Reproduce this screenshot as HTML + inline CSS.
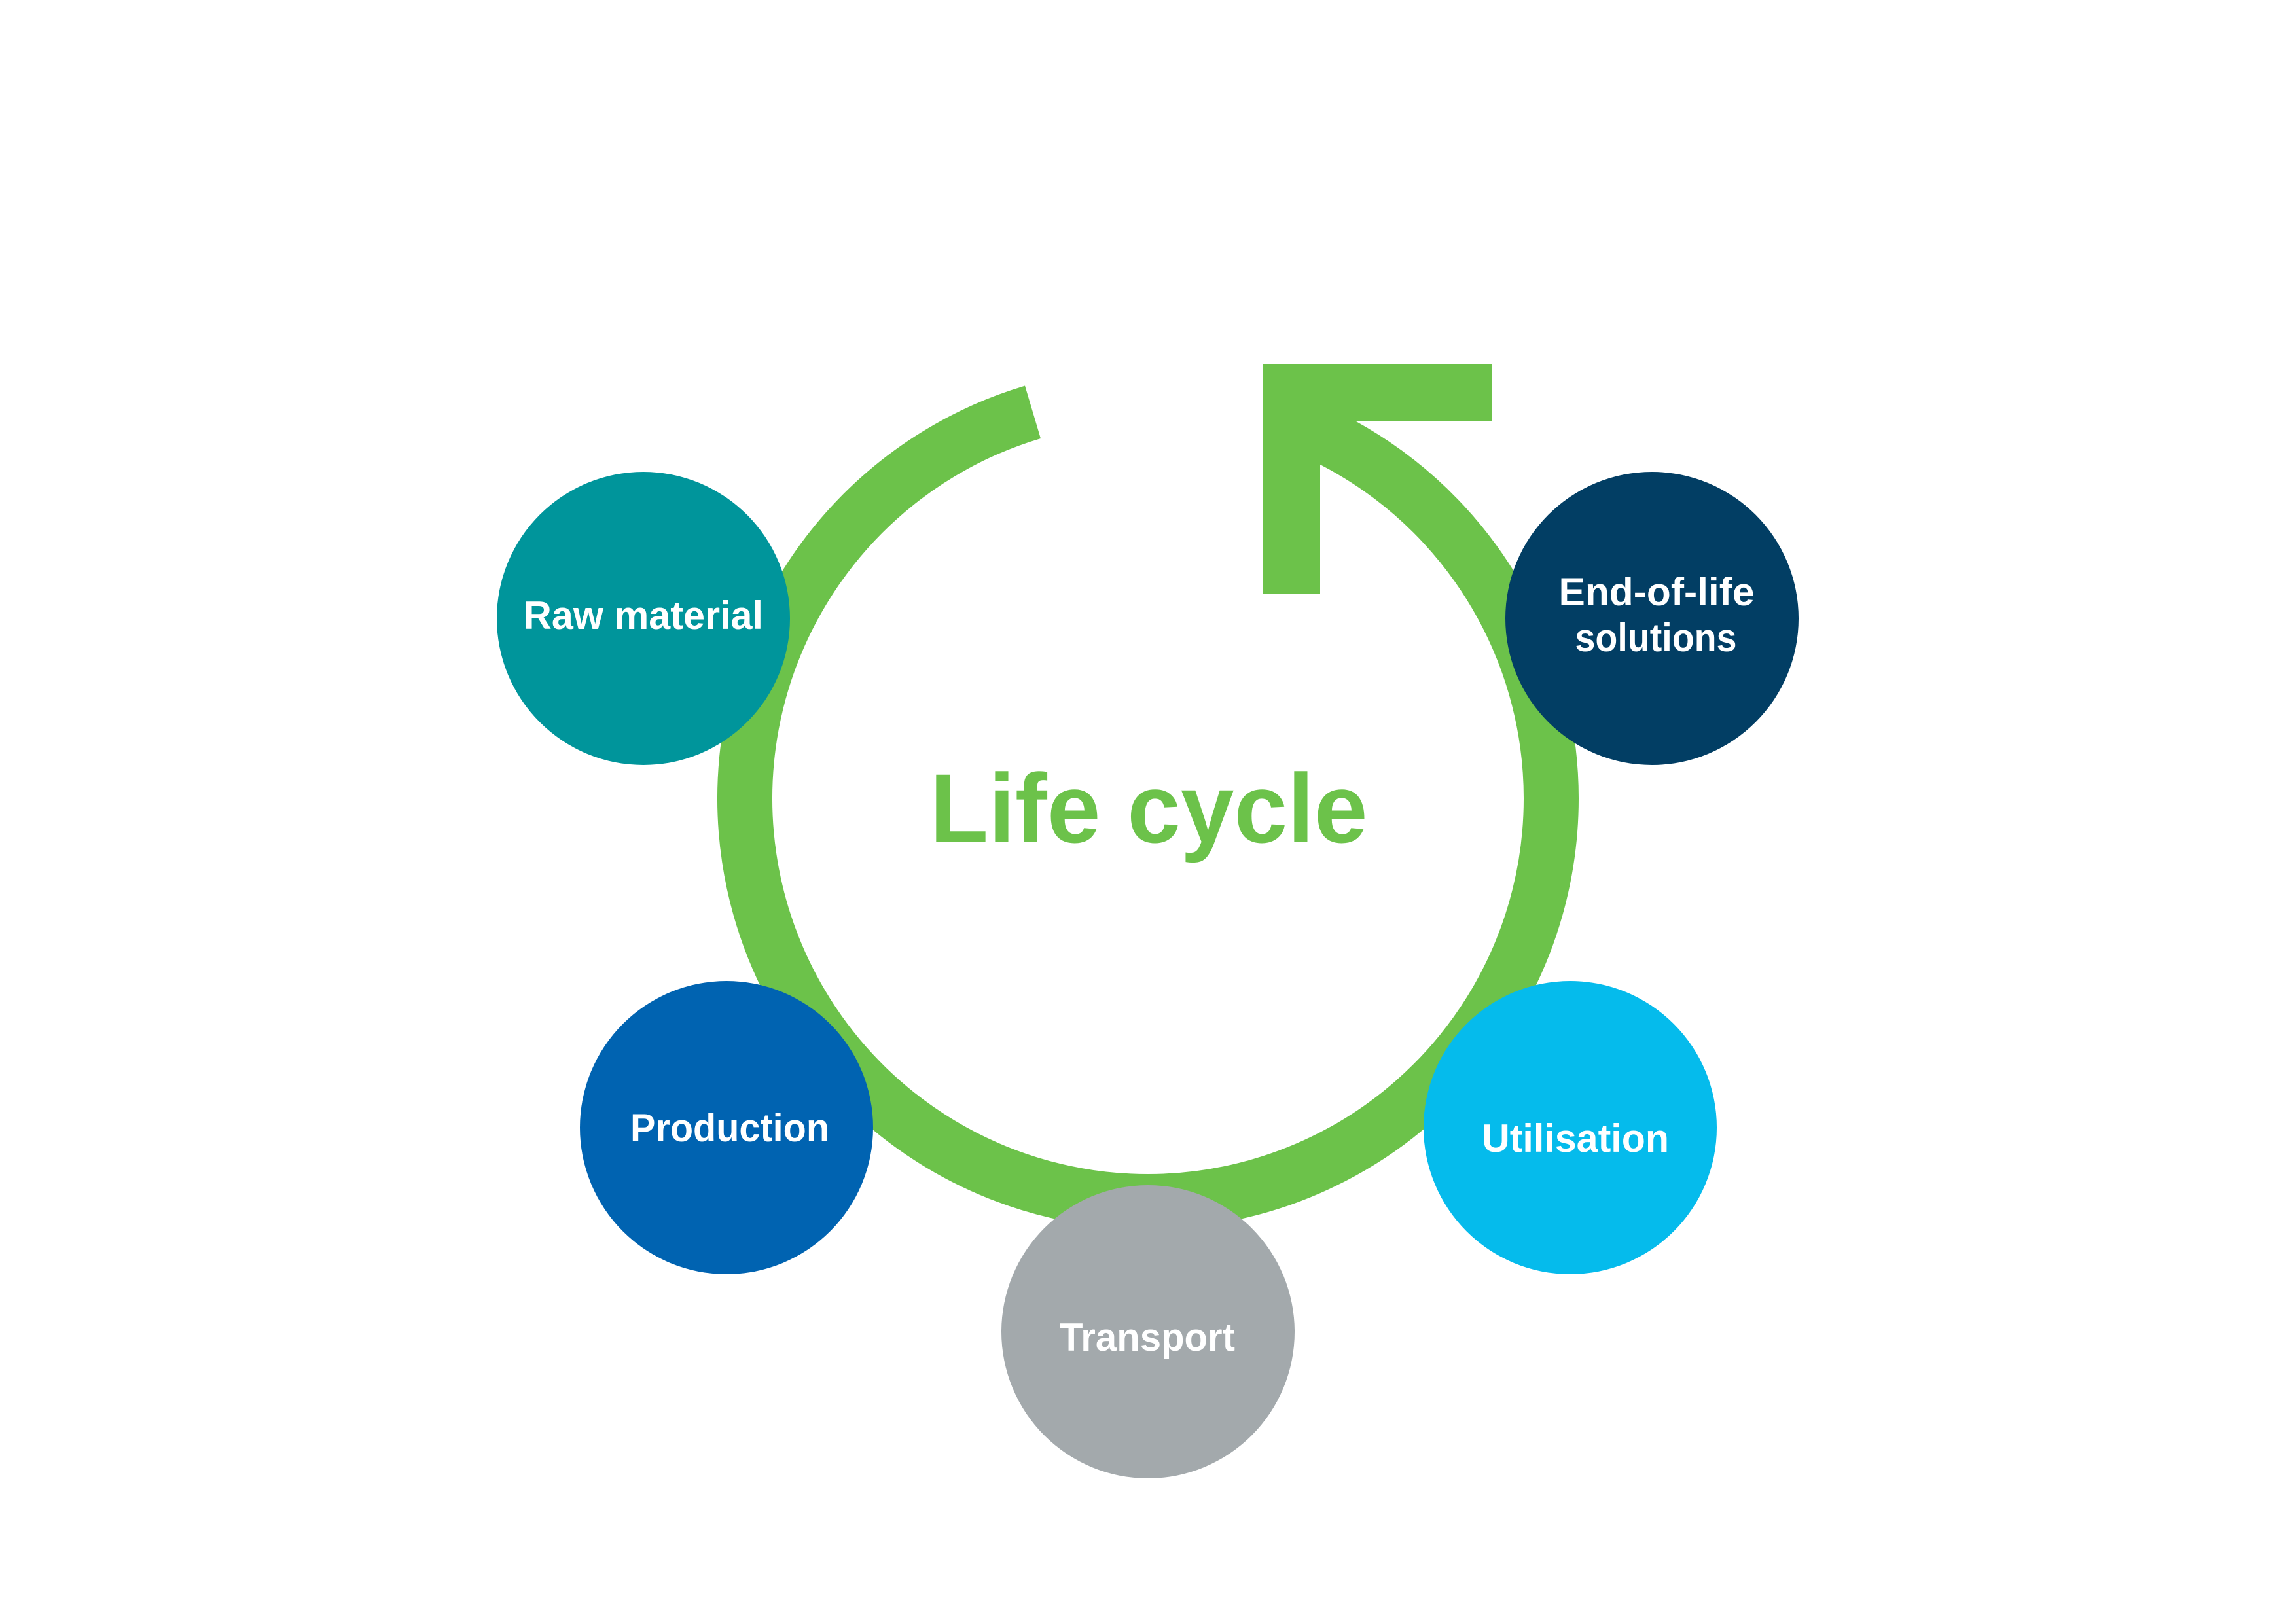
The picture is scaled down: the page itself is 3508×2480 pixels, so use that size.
<!DOCTYPE html>
<html><head><meta charset="utf-8"><style>
html,body{margin:0;padding:0;background:#fff;}
svg{display:block;}
text{font-family:"Liberation Sans",sans-serif;font-weight:bold;}
</style></head><body>
<svg width="3508" height="2480" viewBox="0 0 3508 2480" xmlns="http://www.w3.org/2000/svg">
<rect width="3508" height="2480" fill="#fff"/>
<path d="M 1984.8 648.9 A 616 616 0 1 1 1578 629.7" fill="none" stroke="#6cc24a" stroke-width="84"/>
<rect x="1929" y="556" width="88" height="351" fill="#6cc24a"/>
<rect x="1929" y="556" width="351" height="88" fill="#6cc24a"/>
<text x="1755" y="1287" font-size="150" fill="#6cc24a" text-anchor="middle" textLength="669" lengthAdjust="spacingAndGlyphs">Life cycle</text>
<circle cx="983" cy="945" r="224" fill="#00959b"/>
<circle cx="2524" cy="945" r="224" fill="#023e64"/>
<circle cx="1110" cy="1723" r="224" fill="#0063b1"/>
<circle cx="2399" cy="1723" r="224" fill="#05bbec"/>
<circle cx="1754" cy="2035" r="224" fill="#a3a9ac"/>
<g fill="#fff" font-size="60" text-anchor="middle">
<text x="983" y="961" textLength="366" lengthAdjust="spacingAndGlyphs">Raw material</text>
<text x="2531" y="925" textLength="299" lengthAdjust="spacingAndGlyphs">End-of-life</text>
<text x="2530" y="995" textLength="247" lengthAdjust="spacingAndGlyphs">solutions</text>
<text x="1115" y="1744" textLength="304" lengthAdjust="spacingAndGlyphs">Production</text>
<text x="2407" y="1760" textLength="286" lengthAdjust="spacingAndGlyphs">Utilisation</text>
<text x="1753" y="2064" textLength="268" lengthAdjust="spacingAndGlyphs">Transport</text>
</g>
</svg>
</body></html>
